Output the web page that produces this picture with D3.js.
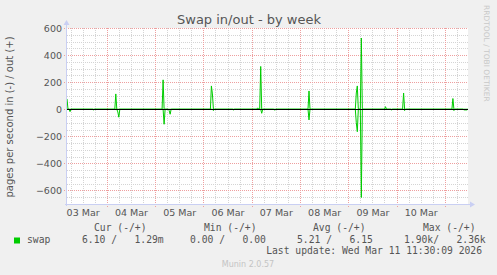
<!DOCTYPE html>
<html>
<head>
<meta charset="utf-8">
<script src="https://cdn.jsdelivr.net/npm/d3@7"></script>
<style>
  body { margin: 0; background: #f0f0f0; }
  svg { display: block; }
  text { font-family: "DejaVu Sans", sans-serif; fill: #555; }
  .mono { font-family: "DejaVu Sans Mono", monospace; white-space: pre; }
</style>
</head>
<body>
<div id="chart"></div>
<script>
// sample times (30 min steps around the spikes, zero elsewhere)
const times = [
  "2026-03-03T04:15", "2026-03-03T04:45", "2026-03-03T05:15", "2026-03-03T05:45", "2026-03-03T06:15",
  "2026-03-03T17:00", "2026-03-03T17:30", "2026-03-03T18:00",
  "2026-03-04T04:00", "2026-03-04T04:30", "2026-03-04T05:00", "2026-03-04T05:30", "2026-03-04T06:00", "2026-03-04T06:30",
  "2026-03-05T03:30", "2026-03-05T04:00", "2026-03-05T04:30", "2026-03-05T05:00",
  "2026-03-05T06:30", "2026-03-05T07:00", "2026-03-05T07:30", "2026-03-05T08:00",
  "2026-03-06T03:30", "2026-03-06T04:00", "2026-03-06T04:30", "2026-03-06T05:00", "2026-03-06T05:30",
  "2026-03-06T14:30", "2026-03-06T15:00", "2026-03-06T15:30",
  "2026-03-07T02:30", "2026-03-07T03:00", "2026-03-07T03:30", "2026-03-07T04:00", "2026-03-07T04:30", "2026-03-07T05:00", "2026-03-07T05:30",
  "2026-03-07T11:00", "2026-03-07T11:30", "2026-03-07T12:00",
  "2026-03-08T04:00", "2026-03-08T04:30", "2026-03-08T05:00",
  "2026-03-09T03:30", "2026-03-09T04:00", "2026-03-09T04:30", "2026-03-09T05:00",
  "2026-03-09T06:00", "2026-03-09T06:30", "2026-03-09T07:00",
  "2026-03-09T18:00", "2026-03-09T18:30", "2026-03-09T19:00",
  "2026-03-09T21:00", "2026-03-09T21:30", "2026-03-09T22:00",
  "2026-03-10T03:00", "2026-03-10T03:30", "2026-03-10T04:00", "2026-03-10T04:30",
  "2026-03-11T03:30", "2026-03-11T04:00", "2026-03-11T04:30", "2026-03-11T05:00",
  "2026-03-11T09:00", "2026-03-11T09:30", "2026-03-11T11:00", "2026-03-11T11:30"
];
// pages out per second (drawn positive)
const swapOut = [
  76, 0, 0, 0, 0,
  0, 0, 0,
  0, 113, 0, 0, 0, 0,
  0, 217, 0, 0,
  0, 0, 0, 0,
  0, 172, 113, 0, 0,
  0, 0, 0,
  0, 10, 0, 0, 316, 0, 0,
  0, 0, 0,
  0, 135, 0,
  0, 120, 172, 0,
  0, 526, 0,
  0, 19, 0,
  0, 0, 0,
  0, 120, 0, 0,
  0, 79, 0, 0,
  0, 0, 0, 0
];
// pages in per second (drawn negative)
const swapIn = [
  0, 0, 0, 18, 0,
  0, 5, 0,
  0, 0, 0, 20, 59, 0,
  0, 0, 111, 0,
  0, 10, 37, 0,
  0, 0, 0, 10, 0,
  0, 5, 0,
  0, 0, 0, 0, 0, 30, 0,
  0, 8, 0,
  0, 79, 0,
  0, 100, 166, 0,
  0, 652, 0,
  0, 0, 0,
  0, 5, 0,
  0, 0, 10, 0,
  0, 0, 10, 0,
  0, 5, 5, 0
];
const yTicks = [-600, -400, -200, 0, 200, 400, 600];
const dayLabels = ["03 Mar", "04 Mar", "05 Mar", "06 Mar", "07 Mar", "08 Mar", "09 Mar", "10 Mar"];
const legendHead = ["Cur (-/+)", "Min (-/+)", "Avg (-/+)", "Max (-/+)"];
const legendVals = ["6.10 /   1.29m", "0.00 /   0.00", "5.21 /   6.15", "1.90k/   2.36k"];

const width = 497, height = 275;
const plotL = 67, plotR = 468, plotT = 28, plotB = 204;

const parse = d3.timeParse("%Y-%m-%dT%H:%M");
const data = times.map((t, i) => ({t: parse(t), out: swapOut[i], inn: -swapIn[i]}));

const x = d3.scaleTime()
    .domain([parse("2026-03-03T04:15"), parse("2026-03-11T11:30")])
    .range([plotL, plotR]);
const y = d3.scaleLinear().domain([-700, 600]).range([plotB, plotT]);
const px = v => Math.round(v) + 0.5;

const svg = d3.select("#chart").append("svg")
    .attr("width", width)
    .attr("height", height);

svg.append("rect").attr("width", width).attr("height", height).attr("fill", "#f0f0f0");
svg.append("rect")
    .attr("x", plotL).attr("y", plotT)
    .attr("width", plotR - plotL).attr("height", plotB - plotT)
    .attr("fill", "#fff");

const grid = svg.append("g");
const minorCol = "#d4d4d4", majorCol = "#ee9f9f";
// minor grid
d3.range(-650, 600, 50).filter(v => v % 200 != 0).forEach(v =>
    grid.append("line")
        .attr("x1", plotL).attr("x2", plotR)
        .attr("y1", px(y(v))).attr("y2", px(y(v)))
        .attr("stroke", minorCol).attr("stroke-dasharray", "1,1"));
const hours6 = d3.range(0, 9 * 4).map(i => d3.timeHour.offset(parse("2026-03-03T00:00"), i * 6))
    .filter(d => d > x.domain()[0] && d < x.domain()[1]);
hours6.forEach((d, i) => {
    const major = d.getHours() == 0;
    grid.append("line")
        .attr("x1", px(x(d))).attr("x2", px(x(d)))
        .attr("y1", plotT).attr("y2", major ? plotB + 3 : plotB)
        .attr("stroke", major ? majorCol : minorCol).attr("stroke-dasharray", "1,1");
});
// major grid
yTicks.forEach(v =>
    grid.append("line")
        .attr("x1", plotL - 3).attr("x2", plotR)
        .attr("y1", px(y(v))).attr("y2", px(y(v)))
        .attr("stroke", majorCol).attr("stroke-dasharray", "1,1"));

// data lines
const lineOut = d3.line().x(d => x(d.t)).y(d => y(d.out));
const lineIn = d3.line().x(d => x(d.t)).y(d => y(d.inn));
svg.append("path").datum(data).attr("d", lineIn)
    .attr("fill", "none").attr("stroke", "#00cc00").attr("stroke-width", 1);
svg.append("path").datum(data).attr("d", lineOut)
    .attr("fill", "none").attr("stroke", "#00cc00").attr("stroke-width", 1);

// zero rule
svg.append("line")
    .attr("x1", plotL).attr("x2", plotR)
    .attr("y1", px(y(0))).attr("y2", px(y(0)))
    .attr("stroke", "#000");

// axes lines + arrows
const axisCol = "#c9cff3";
svg.append("line").attr("x1", plotL - 0.5).attr("x2", plotL - 0.5)
    .attr("y1", plotB + 2).attr("y2", plotT - 4)
    .attr("stroke", axisCol);
svg.append("path").attr("d", `M${plotL - 3.5},${plotT - 3} L${plotL - 0.5},${plotT - 8} L${plotL + 2.5},${plotT - 3} Z`)
    .attr("fill", axisCol);
svg.append("line").attr("x1", plotL - 2).attr("x2", plotR + 3)
    .attr("y1", plotB + 0.5).attr("y2", plotB + 0.5)
    .attr("stroke", axisCol);
svg.append("path").attr("d", `M${plotR + 2},${plotB - 2.5} L${plotR + 7},${plotB + 0.5} L${plotR + 2},${plotB + 3.5} Z`)
    .attr("fill", axisCol);

// y axis labels
const yAxis = d3.axisLeft(y).tickValues(yTicks).tickSize(0).tickPadding(5);
const gy = svg.append("g").attr("transform", `translate(${plotL},0)`).call(yAxis);
gy.select(".domain").remove();
gy.selectAll("text").attr("font-size", 9.5).attr("font-family", "DejaVu Sans").attr("fill", "#555");

// x axis labels at noon
const noons = dayLabels.map((l, i) => d3.timeHour.offset(d3.timeDay.offset(parse("2026-03-03T00:00"), i), 12));
const xAxis = d3.axisBottom(x).tickValues(noons).tickSize(0).tickPadding(5)
    .tickFormat((d, i) => dayLabels[i]);
const gx = svg.append("g").attr("transform", `translate(0,${plotB})`).call(xAxis);
gx.select(".domain").remove();
gx.selectAll("text").attr("font-size", 9.5).attr("font-family", "DejaVu Sans").attr("fill", "#555");

// title
svg.append("text").attr("x", 249).attr("y", 24)
    .attr("text-anchor", "middle").attr("font-size", 13)
    .text("Swap in/out - by week");

// y title
svg.append("text")
    .attr("transform", "translate(13,117) rotate(-90)")
    .attr("text-anchor", "middle").attr("font-size", 10)
    .text("pages per second in (-) / out (+)");

// watermark
svg.append("text")
    .attr("transform", "translate(484,5) rotate(90)")
    .attr("font-size", 7.5).style("fill", "#c8c8c8")
    .text("RRDTOOL / TOBI OETIKER");

// legend
const headX = [94, 204, 313, 423];
const valX = [82, 190, 297, 404];
legendHead.forEach((h, i) =>
    svg.append("text").attr("class", "mono").attr("x", headX[i]).attr("y", 231)
        .attr("font-size", 9.7).text(h));
svg.append("rect").attr("x", 14).attr("y", 237.5).attr("width", 6).attr("height", 6).attr("fill", "#00cc00");
svg.append("text").attr("class", "mono").attr("x", 27).attr("y", 243).attr("font-size", 9.7).text("swap");
legendVals.forEach((v, i) =>
    svg.append("text").attr("class", "mono").attr("x", valX[i]).attr("y", 243)
        .attr("font-size", 9.7).text(v));
svg.append("text").attr("class", "mono").attr("x", 482).attr("y", 253.5)
    .attr("text-anchor", "end").attr("font-size", 9.7)
    .text("Last update: Wed Mar 11 11:30:09 2026");
svg.append("text").attr("x", 248).attr("y", 266.5)
    .attr("text-anchor", "middle").attr("font-size", 8).style("fill", "#c4c4c4")
    .text("Munin 2.0.57");
</script>
</body>
</html>
